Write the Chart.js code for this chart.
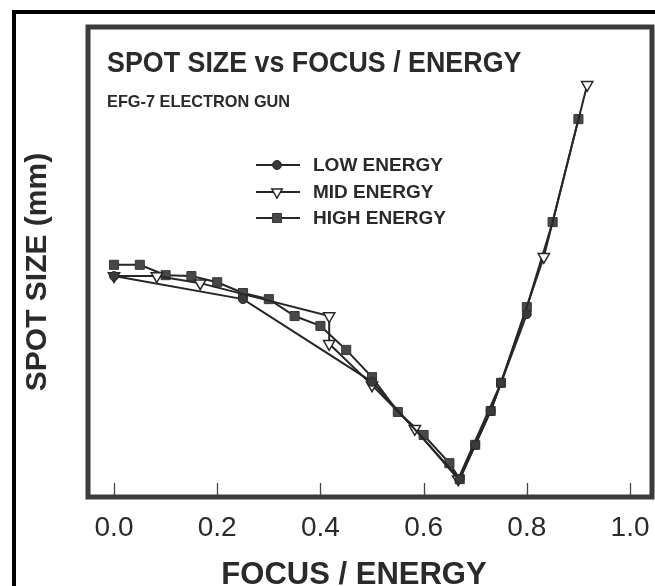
<!DOCTYPE html>
<html>
<head>
<meta charset="utf-8">
<script src="https://cdn.jsdelivr.net/npm/chart.js@4/dist/chart.umd.min.js"></script>
<style>
  html, body { margin: 0; padding: 0; background: #ffffff; overflow: hidden; }
  #wrap { position: relative; width: 655px; height: 586px; }
  #outer { position: absolute; left: 12px; top: 10px; width: 700px; height: 700px; border: 4px solid #000; box-sizing: border-box; }
  #c { position: absolute; left: 0; top: 0; }
</style>
</head>
<body>
<div id="wrap">
  <div id="outer"></div>
  <canvas id="c" width="655" height="586"></canvas>
</div>
<script>
// ---- data ----
const tickValues = [0.0, 0.2, 0.4, 0.6, 0.8, 1.0];

const lowX  = [0.00, 0.25, 0.50, 0.67, 0.70, 0.73, 0.75, 0.80];
const lowY  = [4.70, 4.21, 2.45, 0.38, 1.11, 1.83, 2.43, 3.89];

const midX  = [0.000, 0.083, 0.167, 0.417, 0.417, 0.500, 0.583, 0.667, 0.750, 0.833, 0.917];
const midY  = [4.70, 4.70, 4.55, 3.85, 3.26, 2.38, 1.45, 0.38, 2.43, 5.11, 8.77];
const midMarked = [true, true, true, true, true, true, true, true, false, true, true];

const highX = [0.00, 0.05, 0.10, 0.15, 0.20, 0.25, 0.30, 0.35, 0.40, 0.45, 0.50, 0.55, 0.60, 0.65, 0.67, 0.70, 0.73, 0.75, 0.80, 0.85, 0.90];
const highY = [4.94, 4.94, 4.72, 4.70, 4.57, 4.34, 4.21, 3.85, 3.64, 3.13, 2.55, 1.81, 1.32, 0.72, 0.38, 1.11, 1.83, 2.43, 4.04, 5.85, 8.04];

const seriesNames = ['LOW ENERGY', 'MID ENERGY', 'HIGH ENERGY'];
const chartTitle = 'SPOT SIZE vs FOCUS / ENERGY';
const chartSubtitle = 'EFG-7 ELECTRON GUN';
const xTitle = 'FOCUS / ENERGY';
const yTitle = 'SPOT SIZE (mm)';

const toPts = (xs, ys) => xs.map((x, i) => ({ x: x, y: ys[i] }));

const INK = '#2a2a2a';
const FONT = '"Liberation Sans", Arial, Helvetica, sans-serif';

function drawMarker(ctx, style, x, y, r, fill, stroke, bw) {
  ctx.save();
  ctx.fillStyle = fill; ctx.strokeStyle = stroke; ctx.lineWidth = bw;
  ctx.beginPath();
  if (style === 'circle') {
    ctx.arc(x, y, r, 0, Math.PI * 2);
  } else if (style === 'rect') {
    const s = r * Math.SQRT1_2;
    ctx.rect(x - s, y - s, 2 * s, 2 * s);
  } else if (style === 'triangleDown') {
    ctx.moveTo(x - r * 0.866, y - r * 0.5);
    ctx.lineTo(x + r * 0.866, y - r * 0.5);
    ctx.lineTo(x, y + r);
    ctx.closePath();
  }
  ctx.fill(); ctx.stroke();
  ctx.restore();
}

function condensedText(ctx, text, x, y, sx) {
  ctx.save();
  ctx.translate(x, y);
  ctx.scale(sx, 1);
  ctx.fillText(text, 0, 0);
  ctx.restore();
}

const decor = {
  id: 'decor',
  afterDraw(chart) {
    const ctx = chart.ctx;
    const a = chart.chartArea;
    const xs = chart.scales.x;
    ctx.save();
    // frame
    ctx.strokeStyle = '#3b3b3b';
    ctx.lineWidth = 5;
    ctx.strokeRect(a.left, a.top, a.right - a.left, a.bottom - a.top);
    // inward tick marks
    ctx.strokeStyle = '#444';
    ctx.lineWidth = 1.3;
    tickValues.forEach(v => {
      const px = Math.round(xs.getPixelForValue(v)) + 0.5;
      ctx.beginPath();
      ctx.moveTo(px, a.bottom - 2);
      ctx.lineTo(px, a.bottom - 14);
      ctx.stroke();
    });
    // titles
    ctx.fillStyle = INK;
    ctx.textAlign = 'left';
    ctx.textBaseline = 'alphabetic';
    ctx.font = 'bold 29px ' + FONT;
    condensedText(ctx, chartTitle, 107, 72, 0.925);
    ctx.font = 'bold 17px ' + FONT;
    condensedText(ctx, chartSubtitle, 107, 107, 0.96);
    // x axis title
    ctx.textAlign = 'center';
    ctx.font = 'bold 31px ' + FONT;
    ctx.fillText(xTitle, 354, 584);
    // y axis title
    ctx.save();
    ctx.translate(38, 272);
    ctx.rotate(-Math.PI / 2);
    ctx.textBaseline = 'middle';
    ctx.font = 'bold 30px ' + FONT;
    ctx.fillText(yTitle, 0, 0);
    ctx.restore();
    // legend
    const rows = [165, 192, 218];
    chart.data.datasets.forEach((ds, i) => {
      const y = rows[i];
      ctx.strokeStyle = ds.borderColor;
      ctx.lineWidth = 2;
      ctx.beginPath();
      ctx.moveTo(256, y); ctx.lineTo(300, y);
      ctx.stroke();
      drawMarker(ctx, ds.legendStyle, 277, y, ds.legendRadius, ds.pointBackgroundColor, ds.pointBorderColor, ds.pointBorderWidth);
      ctx.fillStyle = INK;
      ctx.textAlign = 'left';
      ctx.textBaseline = 'middle';
      ctx.font = 'bold 19px ' + FONT;
      ctx.fillText(ds.label, 313, y + 1);
    });
    ctx.restore();
  }
};

new Chart(document.getElementById('c'), {
  type: 'scatter',
  data: {
    datasets: [
      {
        label: seriesNames[0],
        data: toPts(lowX, lowY),
        showLine: true,
        borderColor: '#262626',
        borderWidth: 2,
        pointStyle: 'circle',
        pointRadius: 4.5,
        pointBackgroundColor: '#3a3a3a',
        pointBorderColor: '#2a2a2a',
        pointBorderWidth: 1,
        legendStyle: 'circle',
        legendRadius: 4.5
      },
      {
        label: seriesNames[1],
        data: toPts(midX, midY),
        showLine: true,
        borderColor: '#262626',
        borderWidth: 2,
        pointStyle: 'triangle',
        rotation: 180,
        pointRotation: 180,
        pointRadius: ctx => (midMarked[ctx.dataIndex] ? 6.5 : 0),
        pointBackgroundColor: '#ffffff',
        pointBorderColor: '#262626',
        pointBorderWidth: 1.5,
        legendStyle: 'triangleDown',
        legendRadius: 6
      },
      {
        label: seriesNames[2],
        data: toPts(highX, highY),
        showLine: true,
        borderColor: '#262626',
        borderWidth: 2,
        pointStyle: 'rect',
        pointRadius: 6.4,
        pointBackgroundColor: '#484848',
        pointBorderColor: '#383838',
        pointBorderWidth: 1,
        legendStyle: 'rect',
        legendRadius: 6.4
      }
    ]
  },
  options: {
    responsive: false,
    animation: false,
    devicePixelRatio: 1,
    layout: { autoPadding: false, padding: { left: 88, top: 27, right: 3, bottom: 0 } },
    plugins: { legend: { display: false }, tooltip: { enabled: false }, title: { display: false } },
    scales: {
      x: {
        type: 'linear',
        min: -0.0504,
        max: 1.0426,
        grid: { display: false },
        border: { display: false },
        afterBuildTicks: scale => { scale.ticks = tickValues.map(v => ({ value: v })); },
        afterFit: scale => { scale.height = 89; scale.paddingLeft = 0; scale.paddingRight = 0; },
        ticks: {
          autoSkip: false,
          maxRotation: 0,
          padding: 6,
          color: INK,
          font: { family: FONT, size: 28, weight: 'normal' },
          callback: v => Number(v).toFixed(1)
        }
      },
      y: {
        type: 'linear',
        display: false,
        min: 0,
        max: 10
      }
    }
  },
  plugins: [decor]
});
</script>
</body>
</html>
